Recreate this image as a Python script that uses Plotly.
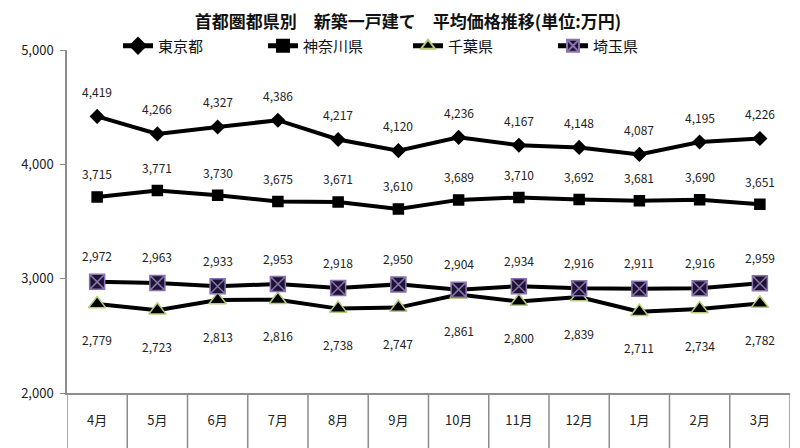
import plotly.graph_objects as go

months = ["4月", "5月", "6月", "7月", "8月", "9月", "10月", "11月", "12月", "1月", "2月", "3月"]
tokyo = [4419, 4266, 4327, 4386, 4217, 4120, 4236, 4167, 4148, 4087, 4195, 4226]
kanagawa = [3715, 3771, 3730, 3675, 3671, 3610, 3689, 3710, 3692, 3681, 3690, 3651]
chiba = [2779, 2723, 2813, 2816, 2738, 2747, 2861, 2800, 2839, 2711, 2734, 2782]
saitama = [2972, 2963, 2933, 2953, 2918, 2950, 2904, 2934, 2916, 2911, 2916, 2959]

FONT = "Noto Sans CJK JP, sans-serif"

fig = go.Figure()

def add_series(name, vals, symbol, size, fill, outline, shift):
    fig.add_trace(go.Scatter(
        x=months, y=vals, name=name,
        mode="lines+markers",
        line=dict(color="black", width=4),
        marker=dict(symbol=symbol, size=size, color=fill,
                    line=dict(color=outline, width=1.5)),
    ))
    # data labels, offset above / below the point
    for m, v in zip(months, vals):
        fig.add_annotation(x=m, y=v, text=f"{v:,}", showarrow=False,
                           yshift=shift, font=dict(size=12, color="#222"))

add_series("東京都", tokyo, "diamond", 10, "black", "black", 25)
add_series("神奈川県", kanagawa, "square", 10, "black", "black", 23)
add_series("千葉県", chiba, "triangle-up", 15, "black", "#b5cc7a", -36)
add_series("埼玉県", saitama, "square-x", 15, "#1c1430", "#8a72b0", 26)

# category divider lines below the axis
for i in range(len(months) + 1):
    fig.add_shape(type="line", xref="x", yref="paper",
                  x0=i - 0.5, x1=i - 0.5, y0=0, y1=-0.165,
                  line=dict(color="#8c8c8c", width=1.5))

fig.update_layout(
    width=800, height=448,
    margin=dict(l=59, r=18, t=42, b=63, autoexpand=False),
    plot_bgcolor="white", paper_bgcolor="white",
    font=dict(family=FONT, color="#222"),
    title=dict(text="<b>首都圏都県別　新築一戸建て　平均価格推移(単位:万円)</b>",
               x=0.5, xanchor="center", y=1 - 14 / 448, yanchor="middle",
               font=dict(size=17, color="#111"), automargin=False),
    showlegend=True,
    legend=dict(orientation="h", xref="container", yref="container",
                x=0.5, xanchor="center", y=1 - 38 / 448, yanchor="middle",
                font=dict(size=15, color="#111"), itemsizing="constant",
                entrywidthmode="pixels", entrywidth=100, itemwidth=30,
                bgcolor="rgba(0,0,0,0)"),
    xaxis=dict(
        type="category", range=[-0.5, 11.5],
        showline=True, linecolor="#8c8c8c", linewidth=1.5,
        showgrid=False, ticks="", ticklabelstandoff=15,
        tickfont=dict(size=13, color="#222"),
    ),
    yaxis=dict(
        range=[2000, 5000], dtick=1000, tickformat=",",
        showline=True, linecolor="#8c8c8c", linewidth=1.5,
        showgrid=False, zeroline=False,
        ticks="outside", ticklen=5, tickcolor="#8c8c8c",
        ticklabelstandoff=4,
        tickfont=dict(size=13, color="#222"),
    ),
)

fig.write_html("out.html")
